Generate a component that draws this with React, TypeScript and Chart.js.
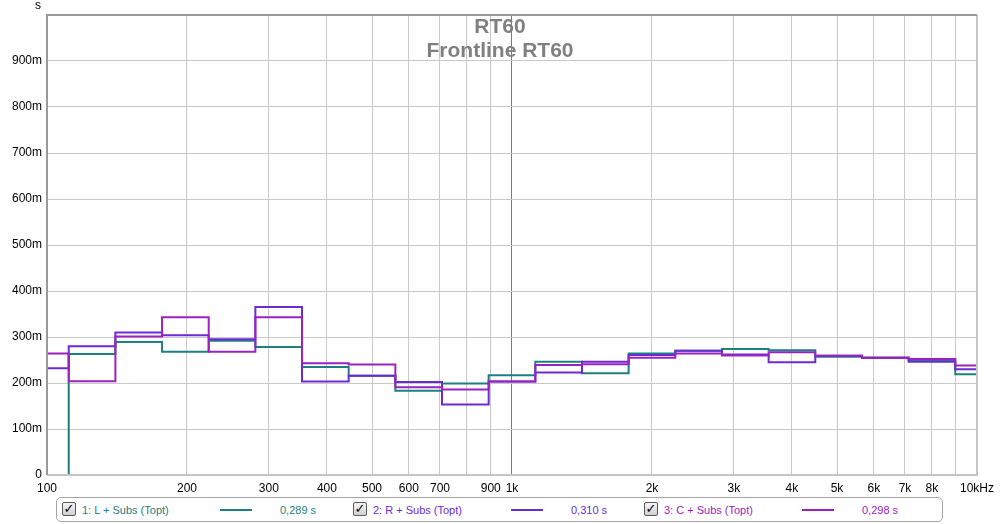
import React, { useEffect, useRef } from "react";
import { Chart, registerables } from "chart.js";

Chart.register(...registerables);

// 1/3-octave bands (index relative to 1 kHz) and their nominal labels
const bandIndex = [-10, -9, -8, -7, -6, -5, -4, -3, -2, -1, 0, 1, 2, 3, 4, 5, 6, 7, 8, 9, 10];
const bandLabels = ["100", "125", "160", "200", "250", "315", "400", "500", "630", "800", "1k", "1.25k", "1.6k", "2k", "2.5k", "3.15k", "4k", "5k", "6.3k", "8k", "10k"];

// RT60 values in seconds
const seriesL = [0.0, 0.263, 0.289, 0.268, 0.292, 0.278, 0.235, 0.216, 0.183, 0.199, 0.217, 0.246, 0.221, 0.264, 0.270, 0.274, 0.271, 0.257, 0.255, 0.250, 0.219];
const seriesR = [0.232, 0.280, 0.310, 0.304, 0.295, 0.365, 0.203, 0.216, 0.202, 0.153, 0.203, 0.223, 0.246, 0.261, 0.270, 0.262, 0.245, 0.259, 0.255, 0.246, 0.230];
const seriesC = [0.264, 0.204, 0.301, 0.343, 0.268, 0.343, 0.243, 0.240, 0.191, 0.186, 0.203, 0.239, 0.241, 0.255, 0.264, 0.260, 0.267, 0.259, 0.255, 0.252, 0.238];

const seriesNames = ["1: L + Subs (Topt)", "2: R + Subs (Topt)", "3: C + Subs (Topt)"];
const seriesAverages = ["0,289 s", "0,310 s", "0,298 s"];
const seriesColors = ["#1d8080", "#6c2ad4", "#9c22c0"];

const xTickValues = [100, 200, 300, 400, 500, 600, 700, 800, 900, 1000, 2000, 3000, 4000, 5000, 6000, 7000, 8000, 9000, 10000];
const xTickLabels = ["100", "200", "300", "400", "500", "600", "700", "", "900", "1k", "2k", "3k", "4k", "5k", "6k", "7k", "8k", "", "10kHz"];

const titleLines = ["RT60", "Frontline RT60"];
const yUnit = "s";

function bandEdge(idx: number, side: number) {
  return 1000 * Math.pow(2, (idx + side * 0.5) / 3);
}

function toSteps(values: number[]) {
  const pts = values.map((v, i) => ({ x: bandEdge(bandIndex[i], -1), y: v }));
  const last = values.length - 1;
  pts.push({ x: bandEdge(bandIndex[last], 1), y: values[last] });
  return pts;
}

const chartDecor = {
  id: "chartDecor",
  beforeDatasetsDraw(chart: any) {
    const { ctx } = chart;
    ctx.save();
    ctx.fillStyle = "#808080";
    ctx.font = "bold 21px 'Liberation Sans', Arial, sans-serif";
    ctx.textAlign = "center";
    ctx.textBaseline = "alphabetic";
    const cx = 500;
    ctx.fillText(titleLines[0], cx, 33);
    ctx.fillText(titleLines[1], cx, 57);
    ctx.restore();
  },
  afterDraw(chart: any) {
    const { ctx, chartArea } = chart;
    const { left, right, top, bottom } = chartArea;
    ctx.save();
    ctx.strokeStyle = "#c4c4c4";
    ctx.lineWidth = 2;
    ctx.beginPath();
    ctx.moveTo(left, bottom);
    ctx.lineTo(right, bottom);
    ctx.lineTo(right, top);
    ctx.stroke();
    ctx.strokeStyle = "#9a9a9a";
    ctx.lineWidth = 2;
    ctx.beginPath();
    ctx.moveTo(left, bottom);
    ctx.lineTo(left, top);
    ctx.lineTo(right, top);
    ctx.stroke();
    ctx.fillStyle = "#000";
    ctx.font = "12px 'Liberation Sans', Arial, sans-serif";
    ctx.textAlign = "right";
    ctx.textBaseline = "middle";
    ctx.fillText(yUnit, 41, 6);
    ctx.restore();
  },
};

function CheckBox({ x }: { x: number }) {
  return (
    <div
      style={{
        position: "absolute",
        left: x,
        top: 502,
        width: 14,
        height: 14,
        boxSizing: "border-box",
        border: "1px solid #5a5a5a",
        borderRadius: 2,
        background: "linear-gradient(#f6f6f6, #d0d0d0)",
        display: "flex",
        alignItems: "center",
        justifyContent: "center",
        fontFamily: "'DejaVu Sans', sans-serif",
        fontSize: 13,
        fontWeight: "bold",
        lineHeight: "12px",
        color: "#000",
      }}
    >
      {"\u2713"}
    </div>
  );
}

export default function App() {
  const canvasRef = useRef<HTMLCanvasElement | null>(null);

  useEffect(() => {
    if (!canvasRef.current) return;
    const allSeries = [seriesL, seriesR, seriesC];
    const chart = new Chart(canvasRef.current, {
      type: "line",
      data: {
        datasets: allSeries.map((s, i) => ({
          label: seriesNames[i],
          data: toSteps(s),
          borderColor: seriesColors[i],
          backgroundColor: seriesColors[i],
          borderWidth: 2,
          pointRadius: 0,
          stepped: "before" as const,
          fill: false,
          order: 3 - i,
        })),
      },
      options: {
        animation: false,
        responsive: false,
        maintainAspectRatio: false,
        layout: { padding: { left: 0, top: 15, right: 23, bottom: 0 } },
        plugins: {
          legend: { display: false },
          tooltip: { enabled: false },
          title: { display: false },
        },
        scales: {
          x: {
            type: "logarithmic",
            min: 100,
            max: 10000,
            afterBuildTicks: (scale: any) => {
              scale.ticks = xTickValues.map((v) => ({ value: v }));
            },
            afterFit: (scale: any) => {
              scale.height = 49;
            },
            ticks: {
              autoSkip: false,
              maxRotation: 0,
              minRotation: 0,
              padding: 6,
              color: "#000",
              font: { family: "'Liberation Sans', Arial, sans-serif", size: 12 },
              callback: (value: any) => {
                const idx = xTickValues.indexOf(Number(value));
                return idx >= 0 ? xTickLabels[idx] : "";
              },
            },
            grid: {
              drawTicks: false,
              tickLength: 0,
              color: (ctx: any) => (ctx.tick && ctx.tick.value === 1000 ? "#7a7a7a" : "#c8c8c8"),
              lineWidth: 1,
            },
            border: { display: false },
          },
          y: {
            type: "linear",
            min: 0,
            max: 1,
            afterFit: (scale: any) => {
              scale.width = 47;
            },
            ticks: {
              stepSize: 0.1,
              padding: 5,
              color: "#000",
              font: { family: "'Liberation Sans', Arial, sans-serif", size: 12 },
              callback: (value: any) => {
                const v = Number(value);
                if (v === 0) return "0";
                if (v > 0.95) return "";
                return Math.round(v * 1000) + "m";
              },
            },
            grid: {
              drawTicks: false,
              tickLength: 0,
              color: "#c8c8c8",
              lineWidth: 1,
            },
            border: { display: false },
          },
        },
      },
      plugins: [chartDecor],
    } as any);
    return () => chart.destroy();
  }, []);

  const itemX = [
    { box: 62, text: 82, line: 220, value: 280 },
    { box: 353, text: 373, line: 511, value: 571 },
    { box: 644, text: 664, line: 802, value: 862 },
  ];

  const textStyle: React.CSSProperties = {
    position: "absolute",
    top: 503,
    height: 14,
    lineHeight: "14px",
    fontFamily: "'Liberation Sans', Arial, sans-serif",
    fontSize: 11,
    whiteSpace: "nowrap",
  };

  return (
    <div
      style={{
        position: "fixed",
        left: 0,
        top: 0,
        width: 1000,
        height: 524,
        background: "#fff",
        overflow: "hidden",
      }}
    >
      <canvas ref={canvasRef} width={1000} height={524} style={{ display: "block", width: 1000, height: 524 }} />
      <div
        style={{
          position: "absolute",
          left: 56,
          top: 497,
          width: 887,
          height: 25,
          boxSizing: "border-box",
          border: "1px solid #a4a4a4",
          borderRadius: 5,
          background: "#fff",
        }}
      />
      {itemX.map((p, i) => (
        <React.Fragment key={i}>
          <CheckBox x={p.box} />
          <div style={{ ...textStyle, left: p.text, color: seriesColors[i] }}>{seriesNames[i]}</div>
          <div
            style={{
              position: "absolute",
              left: p.line,
              top: 509,
              width: 32,
              height: 2,
              background: seriesColors[i],
            }}
          />
          <div style={{ ...textStyle, left: p.value, color: seriesColors[i] }}>{seriesAverages[i]}</div>
        </React.Fragment>
      ))}
    </div>
  );
}
